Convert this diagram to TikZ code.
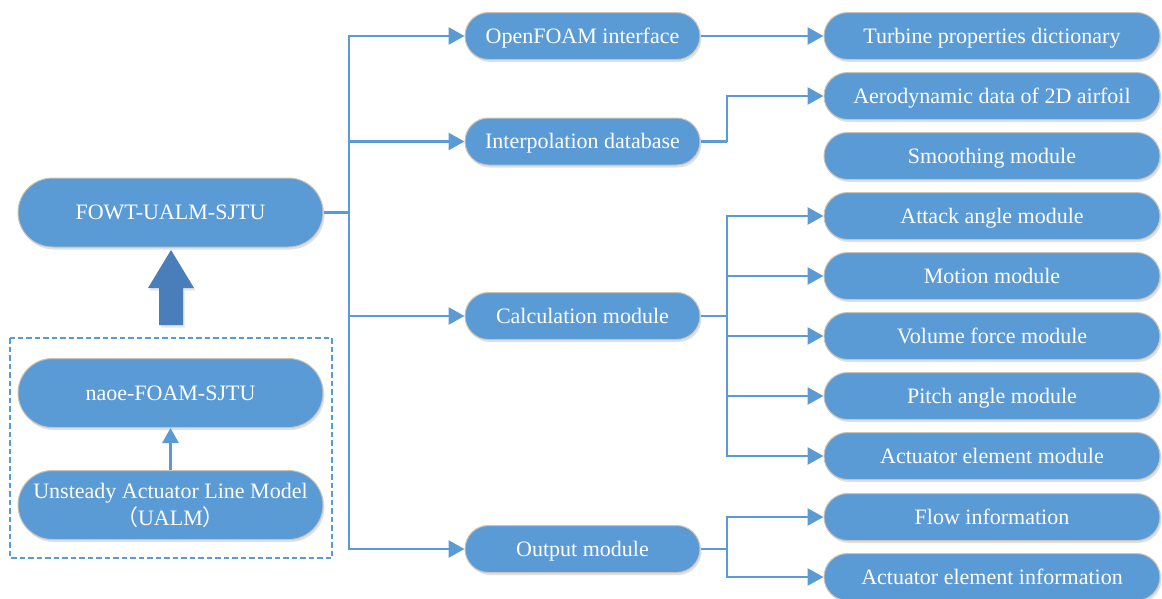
\documentclass[tikz,border=0pt]{standalone}
\usepackage{fontspec}
\setmainfont{Liberation Serif}
\newfontfamily\cjk{Noto Sans CJK SC}
\usetikzlibrary{arrows.meta,shadows,shapes.misc}
\definecolor{boxblue}{HTML}{5B9BD5}
\definecolor{linkblue}{HTML}{5B9BD5}
\definecolor{bigarrow}{HTML}{4A7EBB}
\definecolor{boxedge}{HTML}{C9C3B8}
\begin{document}
\begin{tikzpicture}[x=1pt,y=-1pt,
  mbox/.style={rounded rectangle, fill=boxblue, draw=boxedge, line width=1pt,
    text=white, inner sep=0pt, font=\fontsize{22}{28}\selectfont,
    drop shadow={shadow xshift=1.5pt, shadow yshift=-2.5pt, opacity=0.2, fill=black!60}},
  oneline/.style={text height=16pt, text depth=2pt},
  bigbox/.style={mbox, minimum width=305pt, minimum height=69pt},
  midbox/.style={mbox, oneline, minimum width=235pt, minimum height=47pt},
  rbox/.style={mbox, oneline, minimum width=336pt, minimum height=47pt},
  conn/.style={draw=linkblue, line width=2.8pt},
  arr/.style={conn, -{Triangle[length=16pt,width=17pt]}},
]
\useasboundingbox (0,0) rectangle (1162,598);

% left column
\node[bigbox, oneline] (fowt) at (170.5,212.5) {FOWT-UALM-SJTU};
\draw[draw=linkblue, line width=2.8pt, dash pattern=on 5.5pt off 3pt] (10,338) rectangle (332,558);
\node[bigbox, oneline] (naoe) at (170.5,393) {naoe-FOAM-SJTU};
\node[bigbox, align=center] (ualm) at (170.5,505) {Unsteady Actuator Line Model\\[-1pt]{\cjk （}UALM{\cjk ）}};
\draw[arr, -{Triangle[length=15pt,width=16pt]}] (ualm.north) -- (naoe.south);

% big arrow
\fill[bigarrow, drop shadow={shadow xshift=1.5pt, shadow yshift=-2.5pt, opacity=0.2}]
  (159,325) -- (183,325) -- (183,288) -- (194,288) -- (171,250) -- (148,288) -- (159,288) -- cycle;

% middle column
\node[midbox] (ofi)  at (582.5,36) {OpenFOAM interface};
\node[midbox] (idb)  at (582.5,141.5) {Interpolation database};
\node[midbox] (calc) at (582.5,316) {Calculation module};
\node[midbox] (out)  at (582.5,549) {Output module};

% right column
\node[rbox] (tpd) at (992,36) {Turbine properties dictionary};
\node[rbox] (aer) at (992,96) {Aerodynamic data of 2D airfoil};
\node[rbox] (smo) at (992,156) {Smoothing module};
\node[rbox] (att) at (992,216) {Attack angle module};
\node[rbox] (mot) at (992,276) {Motion module};
\node[rbox] (vol) at (992,336) {Volume force module};
\node[rbox] (pit) at (992,396) {Pitch angle module};
\node[rbox] (ael) at (992,456) {Actuator element module};
\node[rbox] (flo) at (992,517) {Flow information};
\node[rbox] (aei) at (992,577) {Actuator element information};

% trunk
\draw[conn] (fowt.east) -- (349,212.5) coordinate (tk);
\draw[arr] (tk) |- (ofi.west);
\draw[arr] (tk) |- (idb.west);
\draw[arr] (tk) |- (calc.west);
\draw[arr] (tk) |- (out.west);

% openfoam
\draw[arr] (ofi.east) -- (tpd.west);
% interpolation
\draw[conn] (idb.east) -- (727,141.5) coordinate (ib);
\draw[arr] (ib) |- (aer.west);
% calculation
\draw[conn] (calc.east) -- (727,316) coordinate (cb);
\draw[arr] (cb) |- (att.west);
\draw[arr] (cb) |- (mot.west);
\draw[arr] (cb) |- (vol.west);
\draw[arr] (cb) |- (pit.west);
\draw[arr] (cb) |- (ael.west);
% output
\draw[conn] (out.east) -- (727,549) coordinate (ob);
\draw[arr] (ob) |- (flo.west);
\draw[arr] (ob) |- (aei.west);
\end{tikzpicture}
\end{document}
